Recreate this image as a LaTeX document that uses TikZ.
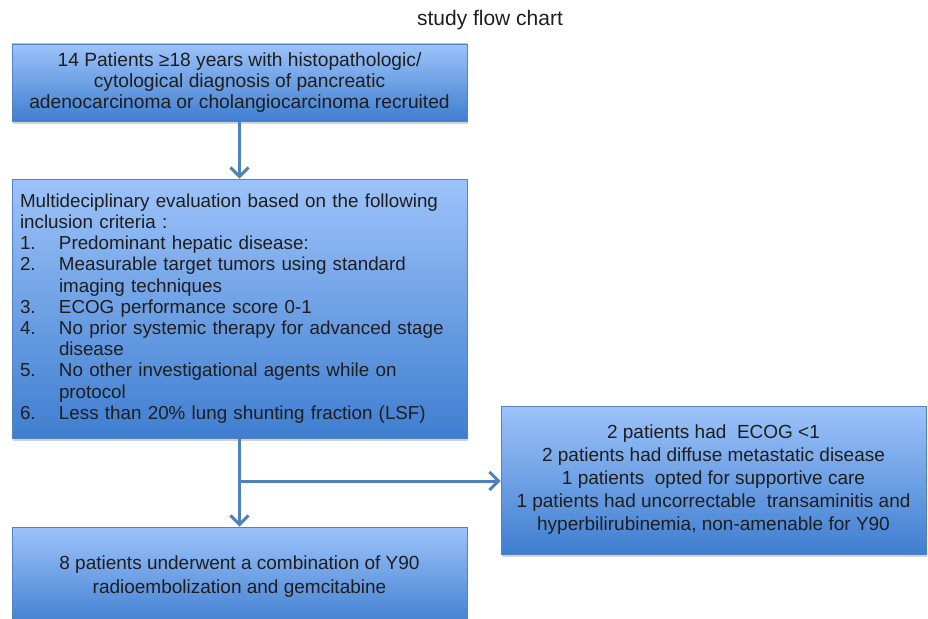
\documentclass[tikz,border=0pt]{standalone}
\usepackage{fontspec}
\setmainfont{Liberation Sans}
\usetikzlibrary{arrows.meta,shadows}

\definecolor{boxtop}{RGB}{157,195,250}
\definecolor{boxbottom}{RGB}{63,126,208}
\definecolor{boxline}{RGB}{84,130,192}
\definecolor{arrowblue}{RGB}{79,129,189}
\definecolor{textgray}{RGB}{30,30,30}

\newcommand{\critem}[1]{\makebox[39pt][l]{#1}}
\newcommand{\crcont}{\hspace*{39pt}}

\begin{document}
\begin{tikzpicture}[x=1pt,y=-1pt,
    flowbox/.style={draw=boxline, line width=0.8pt, top color=boxtop, bottom color=boxbottom,
      text=textgray, font=\fontsize{19}{21}\selectfont, align=center, inner sep=0pt,
      drop shadow={shadow xshift=1pt, shadow yshift=-3pt, opacity=0.35}},
    flowarrow/.style={draw=arrowblue, line width=3pt, -{Straight Barb[length=9pt, width=18pt]}}
  ]
      \useasboundingbox (0,0) rectangle (928,618);
      \clip (0,0) rectangle (928,618);

      % TITLE
      \node[text=textgray] (title) at (490,20) {\fontsize{21}{24}\selectfont study flow chart};

      % BOXES
      \node[flowbox, minimum width=455pt, minimum height=77pt,
            font=\fontsize{19.2}{21}\selectfont] (recruit) at (239.5,82.5)
        {14 Patients ≥18 years with histopathologic/\\
         cytological diagnosis of pancreatic\\
         adenocarcinoma or cholangiocarcinoma recruited};

      \node[flowbox, minimum width=455pt, minimum height=259pt, text width=439pt,
            align=left, font=\fontsize{18.8}{21.2}\selectfont] (criteria) at (239.5,308.5)
        {Multideciplinary evaluation based on the following\\
         inclusion criteria :\\
         \critem{1.}Predominant hepatic disease:\\
         \critem{2.}Measurable target tumors using standard\\
         \crcont imaging techniques\\
         \critem{3.}ECOG performance score 0-1\\
         \critem{4.}No prior systemic therapy for advanced stage\\
         \crcont disease\\
         \critem{5.}No other investigational agents while on\\
         \crcont protocol\\
         \critem{6.}Less than 20\% lung shunting fraction (LSF)};

      \node[flowbox, minimum width=425pt, minimum height=148pt,
            font=\fontsize{19}{23}\selectfont] (excluded) at (713.5,480)
        {2 patients had\ \ ECOG <1\\
         2 patients had diffuse metastatic disease\\
         1 patients\ \ opted for supportive care\\
         1 patients had uncorrectable\ \ transaminitis and\\
         hyperbilirubinemia, non-amenable for Y90};

      \node[flowbox, minimum width=455pt, minimum height=100pt,
            font=\fontsize{19}{24}\selectfont] (treated) at (239.5,577)
        {8 patients underwent a combination of Y90\\
         radioembolization and gemcitabine};

      % ARROWS
      \coordinate (split) at (240,481);
      \draw[flowarrow] (recruit) -- (criteria);
      \draw[flowarrow] (criteria.south) -- (treated.north);
      \draw[flowarrow] (split) -- (split -| excluded.west);

\end{tikzpicture}
\end{document}
